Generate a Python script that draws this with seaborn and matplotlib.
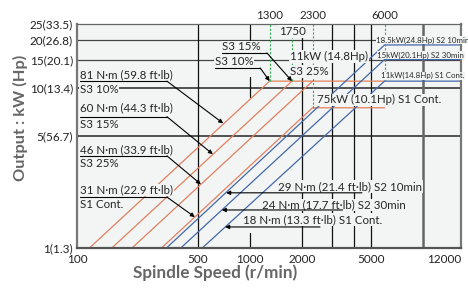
import numpy as np
import pandas as pd
import matplotlib
matplotlib.use("Agg")
from matplotlib import pyplot as plt
import seaborn as sns

# Đường đặc tính công suất: (tốc độ r/min, công suất kW)
t81_speed = [118, 1300, 6000]
t81_kw = [1, 11, 11]
t60_speed = [159, 1750]
t60_kw = [1, 11]
t46_speed = [208, 2300]
t46_kw = [1, 11]
t31_speed = [308, 2300, 6000]
t31_kw = [1, 7.5, 7.5]
t29_speed = [329, 6000, 12000]
t29_kw = [1, 18.5, 18.5]
t24_speed = [398, 6000, 12000]
t24_kw = [1, 15, 15]
t18_speed = [530, 6000, 12000]
t18_kw = [1, 11, 11]

# Nhãn
left_torque = ["81 N·m (59.8 ft·lb)", "60 N·m (44.3 ft·lb)",
               "46 N·m (33.9 ft·lb)", "31 N·m (22.9 ft·lb)"]
left_duty = ["S3 10%", "S3 15%", "S3 25%", "S1 Cont."]
right_torque = ["29 N·m (21.4 ft·lb) S2 10min", "24 N·m (17.7 ft·lb) S2 30min",
                "18 N·m (13.3 ft·lb) S1 Cont."]
power_labels = ["18.5kW(24.8Hp) S2 10min", "15kW(20.1Hp) S2 30min", "11kW(14.8Hp) S1 Cont."]
corner_speeds = [1300, 1750, 2300, 6000]
corner_kw = [11, 11, 7.5, 11]

speed_ticks = [100, 500, 1000, 2000, 5000, 12000]
speed_ticklabels = ["100", "500", "1000", "2000", "5000", "12000"]
kw_ticks = [1, 5, 10, 15, 20, 25]
kw_ticklabels = ["1(1.3)", "5(56.7)", "10(13.4)", "15(20.1)", "20(26.8)", "25(33.5)"]

ORANGE = "#e0805f"
BLUE = "#4468a8"
GREEN = "#2fae4e"
BG = "#f3f5f5"
FONT = ["Lato", "DejaVu Sans"]

curves = {
    "81": (t81_speed, t81_kw, ORANGE), "60": (t60_speed, t60_kw, ORANGE),
    "46": (t46_speed, t46_kw, ORANGE), "31": (t31_speed, t31_kw, ORANGE),
    "29": (t29_speed, t29_kw, BLUE), "24": (t24_speed, t24_kw, BLUE),
    "18": (t18_speed, t18_kw, BLUE),
}
rows = []
for name, (sp, kw, c) in curves.items():
    for s, k in zip(sp, kw):
        rows.append({"Curve": name, "Speed": s, "kW": k})
df = pd.DataFrame(rows)
palette = {name: v[2] for name, v in curves.items()}

sns.set_theme(style="white")
plt.rcParams["font.family"] = FONT

fig = plt.figure(figsize=(4.68, 2.88), dpi=100)
ax = fig.add_axes([77 / 468, 40 / 288, 384 / 468, 224 / 288])
ax.set_facecolor(BG)

sns.lineplot(data=df, x="Speed", y="kW", hue="Curve", palette=palette,
             estimator=None, sort=False, legend=False, lw=0.9, ax=ax, zorder=2)

# thang log, đoạn 10000-12000 bị kéo giãn như hình gốc
K = 2.78
def fwd(x):
    lx = np.log10(np.clip(np.asarray(x, float), 1e-9, None))
    return np.where(lx > 4, 4 + (lx - 4) * K, lx)
def inv(y):
    y = np.asarray(y, float)
    return np.where(y > 4, 10 ** (4 + (y - 4) / K), 10 ** y)

ax.set_xscale("function", functions=(fwd, inv))
ax.set_yscale("log")
ax.set_xlim(100, 12000)
ax.set_ylim(1, 25)
ax.set_xticks(speed_ticks)
ax.set_xticklabels(speed_ticklabels)
ax.set_yticks(kw_ticks)
ax.set_yticklabels(kw_ticklabels)
ax.minorticks_off()
ax.tick_params(axis="both", length=0, labelsize=8.5, colors="#222")
ax.tick_params(axis="y", pad=3)
ax.tick_params(axis="x", pad=4)
ax.get_xticklabels()[-1].set_horizontalalignment("right")
ax.set_xlabel("")
ax.set_ylabel("")

for side, lw, c in [("left", 1.6, "#777"), ("bottom", 1.6, "#555"),
                    ("right", 1.6, "#777"), ("top", 0.9, "#666")]:
    ax.spines[side].set_linewidth(lw)
    ax.spines[side].set_color(c)

# lưới
for k in [5, 10]:
    ax.axhline(k, color="#444", lw=1.3, zorder=1)
for k in [15, 20]:
    ax.axhline(k, color="#444", lw=0.9, zorder=1)
for s in [500, 2000, 3000, 4000, 5000]:
    ax.axvline(s, color="#111", lw=0.9, zorder=1)
ax.axvline(10000, color="#666", lw=1.8, zorder=1)
for y0, y1 in [(20, 25), (8.8, 11.7), (1, 1.24)]:
    ax.plot([1000, 1000], [y0, y1], color="#111", lw=0.9, zorder=1)

for s, k in zip(corner_speeds, corner_kw):
    ax.plot([s, s], [k, 25], color=GREEN, lw=0.8, ls=(0, (2, 1.5)), zorder=2)

tb = dict(facecolor=BG, edgecolor="none", pad=0.6)
fs = 8.3
arrow = dict(arrowstyle="-|>", color="black", lw=0.8, mutation_scale=6,
             shrinkA=0, shrinkB=0)

# nhãn mô-men bên trái
text_kw = [12.1, 7.5, 4.1, 2.3]
ul_kw = [11.0, 6.6, 3.76, 2.08]
duty_kw = [9.75, 5.88, 3.35, 1.86]
tip_speed = [700, 610, 520, 480]
tip_kw = [6.0, 3.85, 2.5, 1.56]
for i in range(4):
    ax.text(104, text_kw[i], left_torque[i], fontsize=fs, va="center", ha="left",
            bbox=tb, zorder=3)
    ax.text(104, duty_kw[i], left_duty[i], fontsize=fs, va="center", ha="left",
            bbox=tb, zorder=3)
    ax.plot([104, 331], [ul_kw[i], ul_kw[i]], color="black", lw=0.8, zorder=4)
    ax.annotate("", xy=(tip_speed[i], tip_kw[i]), xytext=(331, ul_kw[i]),
                arrowprops=arrow, zorder=4)

# nhãn mô-men bên phải (đường xanh)
r_start = [1450, 1170, 910]
r_kw = [2.41, 1.86, 1.5]
r_ul = [2.21, 1.727, 1.353]
r_end = [4440, 3430, 2540]
r_tip = [728, 687, 718]
for i in range(3):
    ax.text(r_start[i], r_kw[i], right_torque[i], fontsize=fs, va="center",
            ha="left", bbox=tb, zorder=3)
    ax.annotate("", xy=(r_tip[i], r_ul[i]), xytext=(r_end[i], r_ul[i]),
                arrowprops=arrow, zorder=4)

# nhãn phía trên
ax.text(689, 18.0, "S3 15%", fontsize=fs, va="center", ha="left", bbox=tb, zorder=3)
ax.plot([689, 1253], [16.5, 16.5], color="black", lw=0.8, zorder=4)
ax.annotate("", xy=(1750, 11), xytext=(1253, 16.5), arrowprops=arrow, zorder=4)
ax.text(627, 14.5, "S3 10%", fontsize=fs, va="center", ha="left", bbox=tb, zorder=3)
ax.plot([627, 1145], [13.3, 13.3], color="black", lw=0.8, zorder=4)
ax.annotate("", xy=(1300, 11), xytext=(1145, 13.3), arrowprops=arrow, zorder=4)

ax.text(1750, 22.4, "1750", fontsize=fs, va="center", ha="center", bbox=tb, zorder=3)
xtrans = ax.get_xaxis_transform()
for s in [1300, 2300, 6000]:
    ax.text(s, 1.04, str(s), fontsize=fs, va="center", ha="center",
            transform=xtrans, clip_on=False)

ax.text(1700, 15.6, "11kW (14.8Hp)", fontsize=fs, va="center", ha="left", bbox=tb, zorder=3)
ax.text(1700, 12.6, "S3 25%", fontsize=fs, va="center", ha="left", bbox=tb, zorder=3)
ax.text(2440, 8.4, "75kW (10.1Hp) S1 Cont.", fontsize=fs, va="center", ha="left",
        bbox=tb, zorder=3)

# nhãn công suất bên phải: thu nhỏ cho vừa khung hình
p_start = [5350, 5450, 5700]
p_kw = [19.8, 16.0, 11.9]
for i in range(3):
    ax.text(p_start[i], p_kw[i], power_labels[i], fontsize=5.7, va="center",
            ha="left", bbox=dict(facecolor=BG, edgecolor="none", pad=0.3),
            zorder=3, clip_on=False)

fig.text(215 / 468, 1 - 273 / 288, "Spindle Speed (r/min)", fontsize=12.3,
         fontweight="bold", color="#666", ha="center", va="center")
fig.text(20 / 468, 1 - 118 / 288, "Output : kW (Hp)", fontsize=11.8,
         fontweight="bold", color="#666", ha="center", va="center", rotation=90)

fig.savefig("out.png", dpi=100, facecolor="white")
